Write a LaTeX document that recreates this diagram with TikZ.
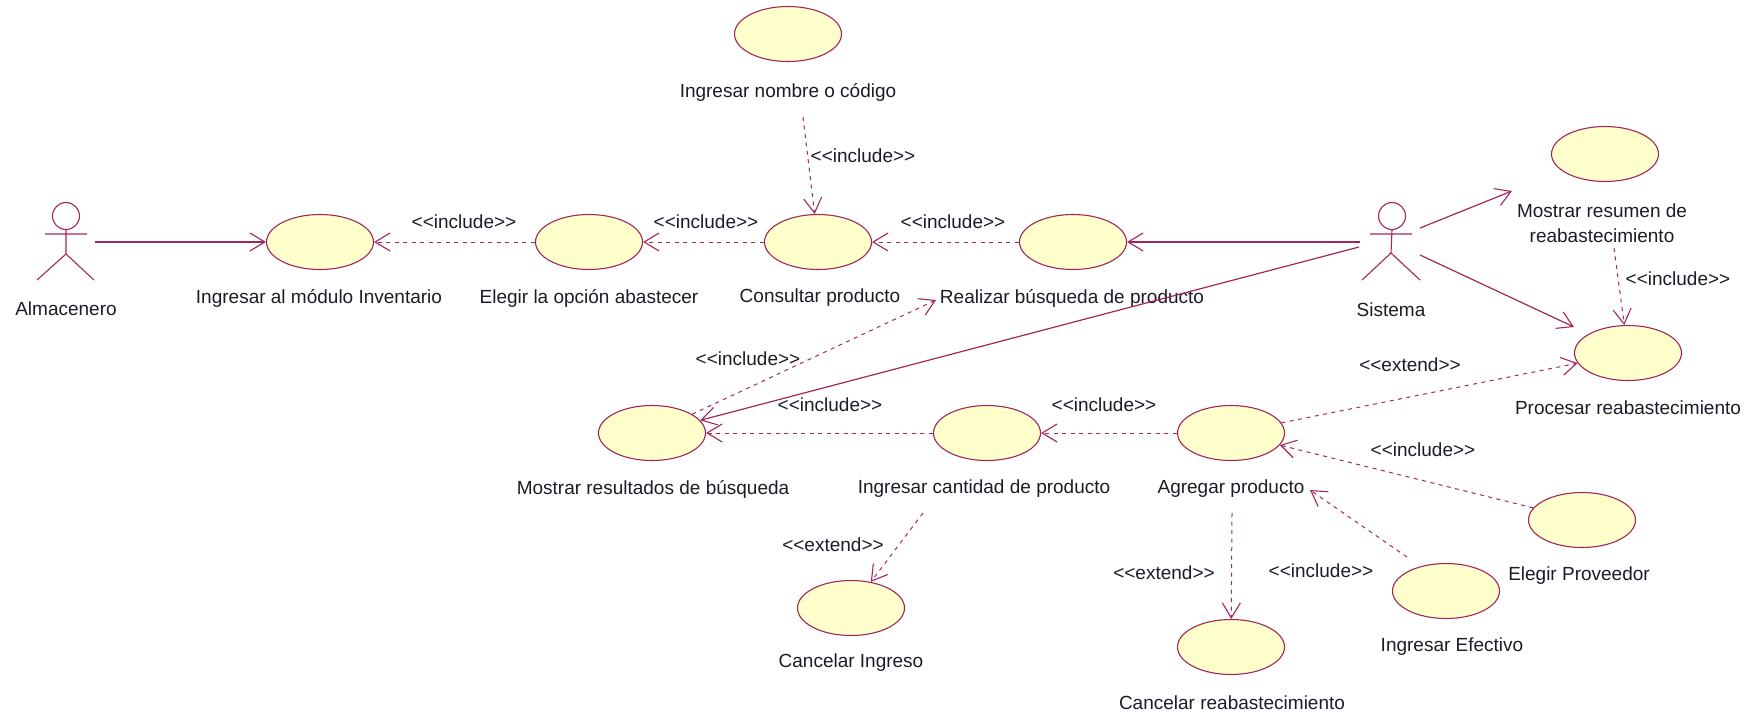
\documentclass[tikz,border=0pt]{standalone}
\usepackage{fontspec}
\setmainfont{Liberation Sans}
\usetikzlibrary{arrows.meta,shapes.geometric}
\definecolor{uml}{HTML}{A3265A}
\definecolor{ucfill}{HTML}{FFFFCC}
\definecolor{ink}{HTML}{1C1C28}
\tikzset{
  usecase/.style={ellipse,draw=uml,fill=ucfill,line width=1.1pt,minimum width=107pt,minimum height=55pt,inner sep=0pt},
  lbl/.style={text=ink,font=\fontsize{19}{25}\selectfont,inner sep=0pt,align=center},
  assoc/.style={draw=uml,line width=1.2pt,-{Straight Barb[length=15pt,width=18pt,line width=1.1pt]}},
  dep/.style={assoc,dash pattern=on 4pt off 4.5pt,line width=1pt},
  actorline/.style={draw=uml,line width=1.1pt},
  actorhead/.style={circle,draw=uml,line width=1.1pt,minimum size=27pt,inner sep=0pt}
}
\begin{document}
\begin{tikzpicture}[x=1pt,y=-1pt]
\useasboundingbox (0,0) rectangle (1758,716);
% use cases
\node[usecase] (top) at (788,34) {};
\node[usecase] (ingmod) at (320,242) {};
\node[usecase] (elegir) at (589,242) {};
\node[usecase] (consultar) at (818,242) {};
\node[usecase] (realizar) at (1073,242) {};
\node[usecase] (resumen) at (1605,154) {};
\node[usecase] (procesar) at (1628,353) {};
\node[usecase] (resultados) at (652,433) {};
\node[usecase] (cantidad) at (987,433) {};
\node[usecase] (agregar) at (1231,433) {};
\node[usecase] (proveedor) at (1582,520) {};
\node[usecase] (efectivo) at (1446,591) {};
\node[usecase] (cancreab) at (1231,647) {};
\node[usecase] (cancing) at (851,608) {};
% actors
\node[actorhead] (almhead) at (66,216) {};
\coordinate (almneck) at (66,254);
\draw[actorline] (almhead.south) -- (almneck) (45,234) -- (87,234) (37,280) -- (almneck) -- (94,280);
\node[actorhead] (sishead) at (1392,216) {};
\coordinate (sisneck) at (1391,253);
\draw[actorline] (sishead.south) -- (sisneck) (1370,234) -- (1412,234) (1362,280) -- (sisneck) -- (1420,280);
% labels
\node[lbl] (lalm) at (66,309) {Almacenero};
\node[lbl] (lsis) at (1391,310) {Sistema};
\node[lbl] (ltop) at (788,92) {Ingresar nombre o código};
\node[lbl] (lingmod) at (319,298) {Ingresar al módulo Inventario};
\node[lbl] (lelegir) at (589,298) {Elegir la opción abastecer};
\node[lbl] (lconsultar) at (820,298) {Consultar producto};
\node[lbl] (lrealizar) at (1072,298) {Realizar búsqueda de producto};
\node[lbl] (lresumen) at (1602,223) {Mostrar resumen de\\reabastecimiento};
\node[lbl] (lprocesar) at (1628,408) {Procesar reabastecimiento};
\node[lbl] (lresultados) at (653,489) {Mostrar resultados de búsqueda};
\node[lbl] (lcantidad) at (984,489) {Ingresar cantidad de producto};
\node[lbl] (lagregar) at (1231,489) {Agregar producto};
\node[lbl] (lproveedor) at (1579,576) {Elegir Proveedor};
\node[lbl] (lefectivo) at (1452,647) {Ingresar Efectivo};
\node[lbl] (lcancing) at (851,663) {Cancelar Ingreso};
\node[lbl] (lcancreab) at (1232,703) {Cancelar reabastecimiento};
% stereotypes
\node[lbl] (s1) at (464,222) {<{}<include>{}>};
\node[lbl] (s2) at (706,222) {<{}<include>{}>};
\node[lbl] (s3) at (953,222) {<{}<include>{}>};
\node[lbl] (s4) at (863,156) {<{}<include>{}>};
\node[lbl] (s5) at (1678,279) {<{}<include>{}>};
\node[lbl] (s6) at (748,359) {<{}<include>{}>};
\node[lbl] (s7) at (830,405) {<{}<include>{}>};
\node[lbl] (s8) at (1104,405) {<{}<include>{}>};
\node[lbl] (s9) at (1423,450) {<{}<include>{}>};
\node[lbl] (s10) at (1321,571) {<{}<include>{}>};
\node[lbl] (e1) at (1410,365) {<{}<extend>{}>};
\node[lbl] (e2) at (833,545) {<{}<extend>{}>};
\node[lbl] (e3) at (1164,573) {<{}<extend>{}>};
% free ends
\coordinate (a1) at (95,242);
\coordinate (a2) at (1360,242);
\coordinate (a3) at (1359,247);
\coordinate (a4) at (1420,228);
\coordinate (a4e) at (1512,191);
\coordinate (a5) at (1420,255);
\coordinate (a5e) at (1574,327);
\coordinate (d1) at (803,117);
\coordinate (d2) at (1614,248);
\coordinate (d3) at (936,300);
\coordinate (d4) at (1310,490);
\coordinate (d5) at (1407,557);
\coordinate (d6) at (1232,513);
\coordinate (d7) at (923,513);
% associations
\draw[assoc] (a1) -- (ingmod);
\draw[assoc] (a2) -- (realizar);
\draw[assoc] (a3) -- (resultados);
\draw[assoc] (a4) -- (a4e);
\draw[assoc] (a5) -- (a5e);
% dependencies
\draw[dep] (elegir) -- (ingmod);
\draw[dep] (consultar) -- (elegir);
\draw[dep] (realizar) -- (consultar);
\draw[dep] (d1) -- (consultar);
\draw[dep] (d2) -- (procesar);
\draw[dep] (resultados) -- (d3);
\draw[dep] (cantidad) -- (resultados);
\draw[dep] (agregar) -- (cantidad);
\draw[dep] (agregar) -- (procesar);
\draw[dep] (proveedor) -- (agregar);
\draw[dep] (d5) -- (d4);
\draw[dep] (d6) -- (cancreab);
\draw[dep] (d7) -- (cancing);
\end{tikzpicture}
\end{document}
